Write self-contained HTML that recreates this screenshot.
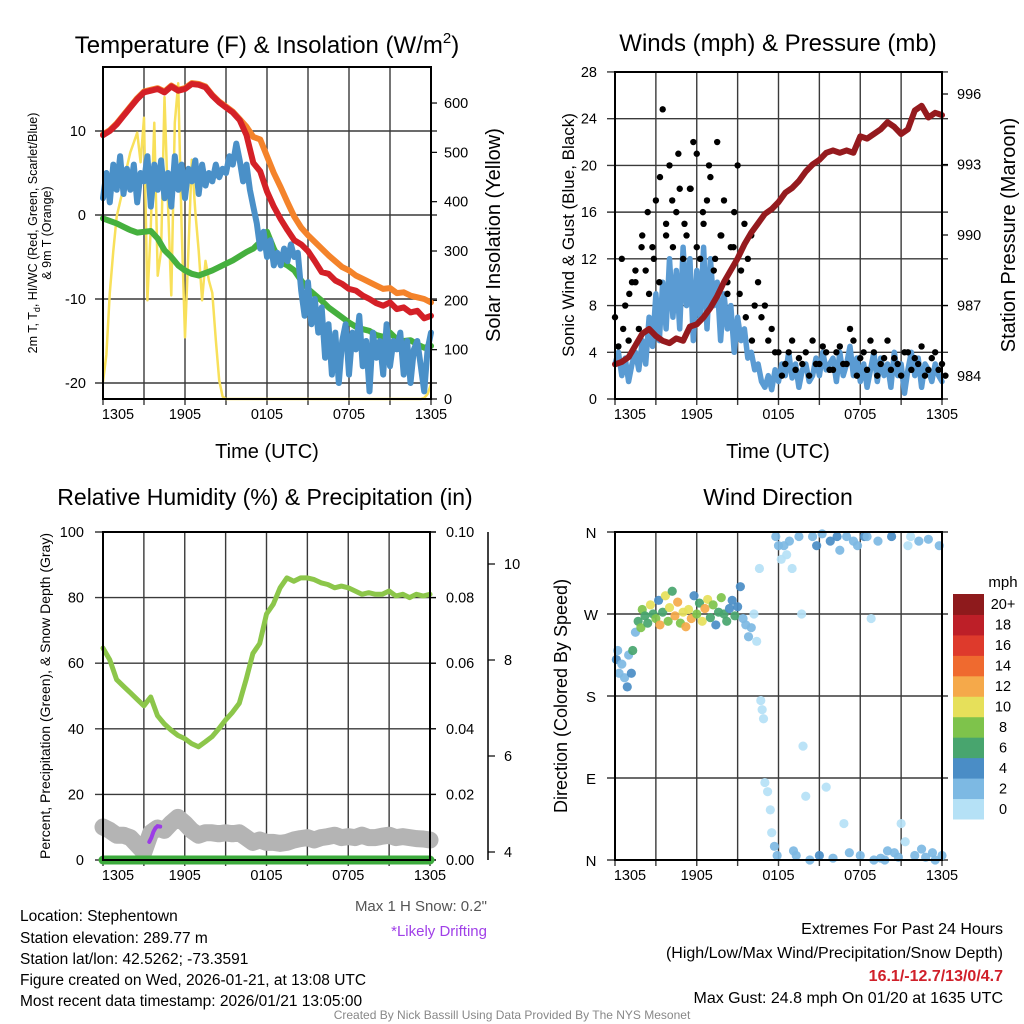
<!DOCTYPE html>
<html><head><meta charset="utf-8">
<style>
html,body{margin:0;padding:0;background:#fff;}
svg{display:block;font-family:"Liberation Sans",Arial,sans-serif;}
</style></head>
<body>
<svg id="chart" width="1024" height="1024" viewBox="0 0 1024 1024" xmlns="http://www.w3.org/2000/svg">
<rect x="0" y="0" width="1024" height="1024" fill="#fff"/>
<text x="267" y="53" font-size="24" text-anchor="middle">Temperature (F) &amp; Insolation (W/m<tspan font-size="15" dy="-10">2</tspan><tspan dy="10">)</tspan></text>
<text x="778" y="51" font-size="24" text-anchor="middle">Winds (mph) &amp; Pressure (mb)</text>
<text x="265" y="505" font-size="23" text-anchor="middle">Relative Humidity (%) &amp; Precipitation (in)</text>
<text x="778" y="505" font-size="23" text-anchor="middle">Wind Direction</text>
<text x="267" y="458" font-size="20" text-anchor="middle">Time (UTC)</text>
<text x="778" y="458" font-size="20" text-anchor="middle">Time (UTC)</text>
<text transform="translate(37,233) rotate(-90)" font-size="12.5" text-anchor="middle">2m T, T<tspan font-size="9" dy="3">d</tspan><tspan dy="-3">, HI/WC (Red, Green, Scarlet/Blue)</tspan></text>
<text transform="translate(51,233) rotate(-90)" font-size="12.5" text-anchor="middle">&amp; 9m T (Orange)</text>
<text transform="translate(500,235) rotate(-90)" font-size="20" text-anchor="middle">Solar Insolation (Yellow)</text>
<text transform="translate(574,235) rotate(-90)" font-size="17" text-anchor="middle">Sonic Wind &amp; Gust (Blue, Black)</text>
<text transform="translate(1015,235) rotate(-90)" font-size="20" text-anchor="middle">Station Pressure (Maroon)</text>
<text transform="translate(50,696) rotate(-90)" font-size="14" text-anchor="middle">Percent, Precipitation (Green), &amp; Snow Depth (Gray)</text>
<text transform="translate(567,696) rotate(-90)" font-size="18" text-anchor="middle">Direction (Colored By Speed)</text>
<g font-size="15.5">
<text x="20" y="921">Location: Stephentown</text>
<text x="20" y="943">Station elevation: 289.77 m</text>
<text x="20" y="964">Station lat/lon: 42.5262; -73.3591</text>
<text x="20" y="985">Figure created on Wed, 2026-01-21, at 13:08 UTC</text>
<text x="20" y="1006">Most recent data timestamp: 2026/01/21 13:05:00</text>
</g>
<text x="487" y="911" font-size="15" fill="#555" text-anchor="end">Max 1 H Snow: 0.2"</text>
<text x="487" y="936" font-size="15" fill="#a040e8" text-anchor="end">*Likely Drifting</text>
<g font-size="16" text-anchor="end">
<text x="1003" y="934">Extremes For Past 24 Hours</text>
<text x="1003" y="958">(High/Low/Max Wind/Precipitation/Snow Depth)</text>
<text x="1003" y="981" fill="#d0202a" font-weight="bold">16.1/-12.7/13/0/4.7</text>
<text x="1003" y="1003">Max Gust: 24.8 mph On 01/20 at 1635 UTC</text>
</g>
<text x="512" y="1019" font-size="12" fill="#888" text-anchor="middle">Created By Nick Bassill Using Data Provided By The NYS Mesonet</text>
<g id="layer"></g>
</svg>
<script>
const xTickLabels = ["1305","1905","0105","0705","1305"];
const tempTicks = [10,0,-10,-20];
const insTicks = [0,100,200,300,400,500,600];
const windTicks = [0,4,8,12,16,20,24,28];
const presTicks = [984,987,990,993,996];
const rhTicks = [0,20,40,60,80,100];
const precipTicks = ["0.00","0.02","0.04","0.06","0.08","0.10"];
const snowTicks = [4,6,8,10];
const dirTicks = ["N","E","S","W","N"];
const speedBins = ["0","2","4","6","8","10","12","14","16","18","20+"];
const speedColors = ["#b5e1f6","#7db9e3","#4a8dc6","#48a56e","#7ec34b","#e6e05a","#f5a94a","#ef6a2f","#de3a2c","#bd1f28","#8e1a1c"];

const tempRed = [9.5,10,10.8,11.8,12.8,13.8,14.6,14.8,15,14.6,15.3,14.8,15.0,15.6,15.5,15.2,14.2,13.4,12.8,12.2,11.3,9.5,6.2,5.2,2.8,1.0,-0.5,-1.8,-3.0,-3.5,-4.3,-5.5,-6.8,-7.0,-7.8,-8.2,-8.8,-9.0,-9.6,-10.0,-10.5,-10.8,-10.4,-11.2,-11.0,-11.6,-11.4,-12.3,-12.0];
const temp9m = [9.6,10.1,10.9,11.9,12.9,13.9,14.7,14.9,15.1,14.7,15.4,14.9,15.1,15.7,15.6,15.3,14.3,13.5,12.9,12.3,11.4,10.5,9.3,9.0,7.0,5.0,3.3,1.5,-0.2,-1.5,-2.4,-3.2,-4.0,-4.8,-5.5,-6.2,-6.6,-7.2,-7.6,-8.0,-8.4,-8.8,-8.7,-9.3,-9.2,-9.6,-9.8,-10.0,-10.4];
const tempGreen = [-0.4,-0.7,-1.0,-1.4,-1.8,-2.1,-2.0,-1.9,-2.8,-4.2,-5.0,-6.0,-6.6,-7.0,-7.2,-6.9,-6.6,-6.2,-5.8,-5.4,-4.9,-4.4,-4.0,-3.2,-2.0,-4.0,-5.6,-6.0,-6.6,-7.8,-8.8,-9.5,-10.2,-11.0,-11.6,-12.2,-12.8,-13.3,-13.6,-13.8,-14.3,-14.5,-14.0,-14.8,-15.0,-14.9,-15.4,-15.8,-15.6];
// quarter-hour insolation
const insolation = [35,90,215,300,370,400,430,470,500,520,540,480,570,200,350,560,250,300,612,400,210,560,640,350,125,300,485,380,300,200,280,240,215,120,38,5,0,0,0,0,0,0,0,0,0,0,0,0,0,0,0,0,0,0,0,0,0,0,0,0,0,0,0,0,0,0,0,0,0,0,0,0,0,0,0,0,0,0,0,0,0,0,0,0,0,0,0,0,0,0,0,0,0,0,2,10,30];
const tempBlue = [2,5,1.5,6,3,7,2.5,5.5,3,6,1.5,5,4,7,1,6,3,6.5,2,5,1,7,3,6,2,5.5,4,6.5,2.5,6,3.5,5,4,6,4.5,5.5,5,7,6,8.5,6.5,4,6,3,1,-1,-4,-2,-5,-3,-6,-4.5,-6,-4,-5.5,-3.5,-5,-4.5,-9,-12,-8,-13,-10,-14,-11,-17,-13,-19,-14,-20,-15,-13,-19,-14,-16,-12,-18,-15,-21,-14,-17,-15,-19,-13,-18,-15,-16,-14,-19,-15,-20,-16,-15,-18,-21,-16,-14];
const sonicWind = [3,4,2,3.5,1.5,3,4,2.5,5,3,7,4.5,9,5,10,6,12,7,11,6,13,8,12,5,11,7,13,6,12,8,10,5,9,6,8,4,7,5,6,3.5,4,2.5,3,1.5,1,2,0.8,2.5,1.5,3,2,4,1.8,3,1,2.5,3,1.5,2,3.5,2,4,2.5,3,3.5,1.5,4,2,3,4.5,2,3.5,1.5,3,1,2.5,4,1.5,3.5,2,3,1,4,2,3,0.5,2.5,4,2,3.5,1,3,2.5,1.5,3,2,1.5];
const gustA = [7,12,5,10,14,9,17,24.8,20,16,12,18,21,15,19,22,17,13,20,15,14,10,8,6,4,3,5,3.5,4,5,3,4,2.5,4.5,3,5,3.5,2.5,4,3,5,3.5,2,4,3.5,4.5,2.5,4,3];
const gustB = [4.5,8,10,6,11,13,10,15,13,18,14,22,12,17,11,14,9,16,11,12,8,7,5,4,2,4,2.5,3,2,3,4.5,2.5,4,3,6,2,4,5,2,3.5,2.5,3,4,2.5,3,2,3.5,2.5,2];
const gustC = [6,9,11,13,16,12,19,14,17,21,15,18,13,16,20,12,14,10,13,9,7,5];
const pressure = [984.5,984.6,984.8,985.3,985.8,986.0,985.7,985.5,985.4,985.6,985.5,986.1,986.2,986.5,986.9,987.4,988.0,988.5,989.0,989.6,990.1,990.5,990.9,991.1,991.4,991.8,992.0,992.3,992.7,993.0,993.2,993.5,993.6,993.5,993.6,993.5,994.2,994.1,994.3,994.5,994.8,994.6,994.3,994.5,995.3,995.5,995.0,995.2,995.1];
const relHum = [64.6,61,55,53,51,49,47,49.7,44,41.5,39.6,38,37,35.5,34.5,36,37.6,40,42.7,45,47.8,55,63,66,75,78,83,86,85,86,86,85.5,84.5,84,83,83.5,83,82,81,81.5,81,81,82,80.5,81,80,81,80.5,81];
const precip = [0,0,0,0,0,0,0,0,0,0,0,0,0,0,0,0,0,0,0,0,0,0,0,0,0,0,0,0,0,0,0,0,0,0,0,0,0,0,0,0,0,0,0,0,0,0,0,0,0];
const snowDepth = [4.52,4.45,4.35,4.35,4.3,4.15,4.0,4.4,4.5,4.45,4.6,4.72,4.6,4.45,4.35,4.4,4.4,4.38,4.4,4.38,4.4,4.3,4.2,4.25,4.2,4.2,4.18,4.2,4.25,4.28,4.3,4.25,4.3,4.32,4.35,4.3,4.32,4.3,4.35,4.3,4.3,4.33,4.35,4.3,4.32,4.3,4.28,4.27,4.25];
const driftHours = [3.4,3.55,3.7,3.85,4.0,4.2];
const driftSnow = [4.21,4.3,4.42,4.5,4.54,4.53];
const dirHours = [0.1,0.2,0.3,0.5,0.7,0.9,1.0,1.2,1.3,1.5,1.7,1.9,2.0,2.2,2.4,2.6,2.8,3.0,3.2,3.3,3.5,3.7,3.9,4.0,4.2,4.4,4.6,4.8,5.0,5.2,5.4,5.6,5.8,6.0,6.2,6.4,6.6,6.8,7.0,7.2,7.4,7.6,7.8,8.0,8.2,8.4,8.6,8.8,9.0,9.2,9.4,9.6,9.8,10.0,10.2,10.4,10.6,10.7,10.8,10.9,11.0,11.2,11.4,11.5,11.7,11.9,11.8,12.0,12.2,12.4,12.6,12.8,13.0,13.1,13.3,13.5,13.7,13.8,14.0,14.3,14.5,14.8,15.0,15.2,15.5,15.8,16.0,16.3,16.5,16.8,17.0,17.2,17.5,17.8,18.0,18.3,18.5,18.8,19.0,19.3,19.5,19.8,20.0,20.3,20.5,20.8,21.0,21.3,21.5,21.7,22.0,22.3,22.5,22.8,23.0,23.3,23.5,23.8,24.0];
const dirDeg = [220,230,205,215,200,190,225,205,230,250,262,255,275,268,260,280,270,265,285,258,272,290,262,277,295,268,283,260,272,256,275,265,290,270,282,262,276,286,266,280,258,272,288,270,262,276,285,268,278,300,265,258,245,255,270,240,320,175,165,155,85,75,55,30,15,5,355,345,330,345,335,350,320,10,5,355,270,125,70,0,355,345,5,358,80,350,2,355,340,40,355,8,350,345,5,355,355,265,0,350,2,0,10,355,8,3,40,20,345,355,5,350,12,3,352,8,0,345,5];
const dirSpeed = [4,3,2,3,2,4,2,4,6,2,6,9,8,6,7,10,6,9,5,12,7,11,8,10,7,13,12,8,11,12,10,13,5,8,7,10,12,11,7,9,5,7,8,6,6,5,4,7,4,4,3,3,3,2,1,1,0.5,0.5,0.5,0.5,1,1,1,1,2,2,3,2,1,2,1,2,1,2,3,2,0.5,0.5,1,3,3,4,4,3,1,4,3,4,3,1,2,3,2,2,3,4,2,1,3,3,3,2,2,4,2,2,1,1,1,1,2,2,2,2,2,2,2,2,2];

const NS = "http://www.w3.org/2000/svg";
const layer = document.getElementById("layer");
function mk(tag, attrs, name, parent) {
  const el = document.createElementNS(NS, tag);
  for (const k in attrs) el.setAttribute(k, attrs[k]);
  
  
  (parent || layer).appendChild(el);
  return el;
}
function txt(x, y, s, size, anchor, name, fill) {
  const t = mk("text", {x: x, y: y, "font-size": size, "text-anchor": anchor, fill: fill || "#000"}, name);
  t.textContent = s;
  return t;
}
function pathFrom(xs, ys) {
  let d = "";
  for (let i = 0; i < xs.length; i++) d += (i ? "L" : "M") + xs[i].toFixed(1) + "," + ys[i].toFixed(1);
  return d;
}
function halfHours(n) { const a = []; for (let i = 0; i < n; i++) a.push(i * 0.5); return a; }
function quarterHours(n) { const a = []; for (let i = 0; i < n; i++) a.push(i * 0.25); return a; }

const P1 = {x0:103, x1:431, y0:67, y1:399};
const P2 = {x0:615, x1:942, y0:72, y1:399};
const P3 = {x0:103, x1:430, y0:532, y1:860};
const P4 = {x0:615, x1:942, y0:532, y1:860};
function xScale(P) { return h => P.x0 + h * (P.x1 - P.x0) / 24; }
const tY = v => 215 - v * 8.4;
const iY = v => 399 - v * 0.4933;
const wY = v => 399 - v * 11.68;
const pY = v => 376 - (v - 984) * 23.5;
const rY = v => 860 - v * 3.28;
const qY = v => 860 - v * 3280;
const sY = v => 852 - (v - 4) * 48;
const dY = v => 860 - v * 328 / 360;

function grid(P, hYs, prefix) {
  const xs = xScale(P);
  for (let k = 0; k <= 8; k++) {
    const x = xs(k * 3);
    mk("line", {x1:x, x2:x, y1:P.y0, y2:P.y1 + 6, stroke:"#3a3a3a", "stroke-width":1.4}, prefix + "-vgrid");
  }
  hYs.forEach(y => {
    mk("line", {x1:P.x0 - 8, x2:P.x1 + 6, y1:y, y2:y, stroke:"#3a3a3a", "stroke-width":1.4}, prefix + "-hgrid");
  });
  xTickLabels.forEach((s, k) => {
    let x = xs(k * 6);
    if (k === 0) x += 15;
    txt(x, P.y1 + 20, s, 14.5, "middle", prefix + "-x-tick-label");
  });
}
function border(P, prefix) {
  mk("rect", {x:P.x0, y:P.y0, width:P.x1 - P.x0, height:P.y1 - P.y0, fill:"none", stroke:"#000", "stroke-width":2}, prefix + "-plot-border");
}

(function () {
  const xs = xScale(P1);
  grid(P1, tempTicks.map(tY), "p1");
  tempTicks.forEach(v => txt(86, tY(v) + 5, String(v), 14.5, "end", "p1-y-tick-label"));
  insTicks.forEach(v => {
    mk("line", {x1:P1.x1, x2:P1.x1 + 6, y1:iY(v), y2:iY(v), stroke:"#000", "stroke-width":1.2}, "p1-right-tick");
    txt(444, iY(v) + 5, String(v), 14.5, "start", "p1-right-tick-label");
  });
  const hh = halfHours(49), qh = quarterHours(97);
  mk("path", {d:pathFrom(qh.map(xs), insolation.map(iY)), fill:"none", stroke:"#f8e05a", "stroke-width":2.5, "stroke-linejoin":"round"}, "insolation-line");
  mk("path", {d:pathFrom(hh.map(xs), tempGreen.map(tY)), fill:"none", stroke:"#45b03e", "stroke-width":6, "stroke-linejoin":"round", "stroke-linecap":"round"}, "dewpoint-line");
  mk("path", {d:pathFrom(qh.map(xs), tempBlue.map(tY)), fill:"none", stroke:"#4a90c8", "stroke-width":6, "stroke-linejoin":"round", "stroke-linecap":"round"}, "windchill-line");
  mk("path", {d:pathFrom(hh.map(xs), temp9m.map(tY)), fill:"none", stroke:"#f4832a", "stroke-width":6, "stroke-linejoin":"round", "stroke-linecap":"round"}, "temp-9m-line");
  mk("path", {d:pathFrom(hh.map(xs), tempRed.map(tY)), fill:"none", stroke:"#d42027", "stroke-width":6, "stroke-linejoin":"round", "stroke-linecap":"round"}, "temp-2m-line");
  border(P1, "p1");
})();

(function () {
  const xs = xScale(P2);
  grid(P2, windTicks.map(wY), "p2");
  windTicks.forEach(v => txt(597, wY(v) + 5, String(v), 14.5, "end", "p2-y-tick-label"));
  presTicks.forEach(v => {
    mk("line", {x1:P2.x1, x2:P2.x1 + 6, y1:pY(v), y2:pY(v), stroke:"#000", "stroke-width":1.2}, "p2-right-tick");
    txt(957, pY(v) + 5, String(v), 14.5, "start", "p2-right-tick-label");
  });
  const hh = halfHours(49), qh = quarterHours(97);
  mk("path", {d:pathFrom(qh.map(xs), sonicWind.map(wY)), fill:"none", stroke:"#5a9bd3", "stroke-width":5.5, "stroke-linejoin":"round", "stroke-linecap":"round"}, "sonic-wind-line");
  gustA.forEach((g, i) => mk("circle", {cx:xs(hh[i]), cy:wY(g), r:3.2, fill:"#000"}, "gust-point"));
  gustB.forEach((g, i) => mk("circle", {cx:xs(hh[i] + 0.25), cy:wY(g), r:3.2, fill:"#000"}, "gust-point"));
  gustC.forEach((g, i) => mk("circle", {cx:xs(0.6 + i * 0.45), cy:wY(g), r:3.2, fill:"#000"}, "gust-point"));
  mk("path", {d:pathFrom(hh.map(xs), pressure.map(pY)), fill:"none", stroke:"#951a1e", "stroke-width":6, "stroke-linejoin":"round", "stroke-linecap":"round"}, "pressure-line");
  border(P2, "p2");
})();

(function () {
  const xs = xScale(P3);
  grid(P3, rhTicks.map(rY), "p3");
  rhTicks.forEach(v => txt(84, rY(v) + 5, String(v), 14.5, "end", "p3-y-tick-label"));
  precipTicks.forEach((s, i) => {
    const y = rY(rhTicks[i]);
    mk("line", {x1:P3.x1, x2:P3.x1 + 6, y1:y, y2:y, stroke:"#000", "stroke-width":1.2}, "p3-right-tick");
    txt(446, y + 5, s, 14.5, "start", "p3-right-tick-label");
  });
  mk("line", {x1:488, x2:488, y1:P3.y0, y2:P3.y1, stroke:"#000", "stroke-width":1.5}, "snow-axis-line");
  snowTicks.forEach(v => {
    mk("line", {x1:488, x2:495, y1:sY(v), y2:sY(v), stroke:"#000", "stroke-width":1.2}, "snow-axis-tick");
    txt(504, sY(v) + 5, String(v), 14.5, "start", "snow-axis-tick-label");
  });
  const hh = halfHours(49);
  mk("path", {d:pathFrom(hh.map(xs), snowDepth.map(sY)), fill:"none", stroke:"#b4b4b4", "stroke-width":17, "stroke-linejoin":"round", "stroke-linecap":"round"}, "snow-depth-line");
  mk("path", {d:pathFrom(driftHours.map(xs), driftSnow.map(sY)), fill:"none", stroke:"#9b3ce6", "stroke-width":4, "stroke-linecap":"round"}, "drifting-snow-line");
  mk("path", {d:pathFrom(hh.map(xs), relHum.map(rY)), fill:"none", stroke:"#8cc64a", "stroke-width":5, "stroke-linejoin":"round", "stroke-linecap":"round"}, "relative-humidity-line");
  mk("path", {d:pathFrom(hh.map(xs), precip.map(qY)), fill:"none", stroke:"#3dab3d", "stroke-width":9, "stroke-linecap":"round"}, "precipitation-line");
  border(P3, "p3");
})();

(function () {
  const xs = xScale(P4);
  grid(P4, [0, 90, 180, 270, 360].map(dY), "p4");
  dirTicks.forEach((s, i) => txt(591, dY(i * 90) + 6, s, 15, "middle", "p4-y-tick-label"));
  dirHours.forEach((h, i) => {
    const bin = Math.min(10, Math.floor(dirSpeed[i] / 2));
    mk("circle", {cx:xs(h), cy:dY(dirDeg[i]), r:4.6, fill:speedColors[bin], "fill-opacity":0.92}, "wind-direction-point");
  });
  border(P4, "p4");
  const cbTop = 594, cbH = 225 / 11;
  txt(1003, 587, "mph", 15, "middle", "colorbar-title");
  speedBins.forEach((s, i) => {
    const y = cbTop + (10 - i) * cbH;
    mk("rect", {x:953, y:y, width:31, height:cbH + 0.5, fill:speedColors[i]}, "colorbar-swatch");
    txt(1003, y + cbH / 2 + 5, s, 14.5, "middle", "colorbar-label");
  });
})();
</script>
</body></html>
